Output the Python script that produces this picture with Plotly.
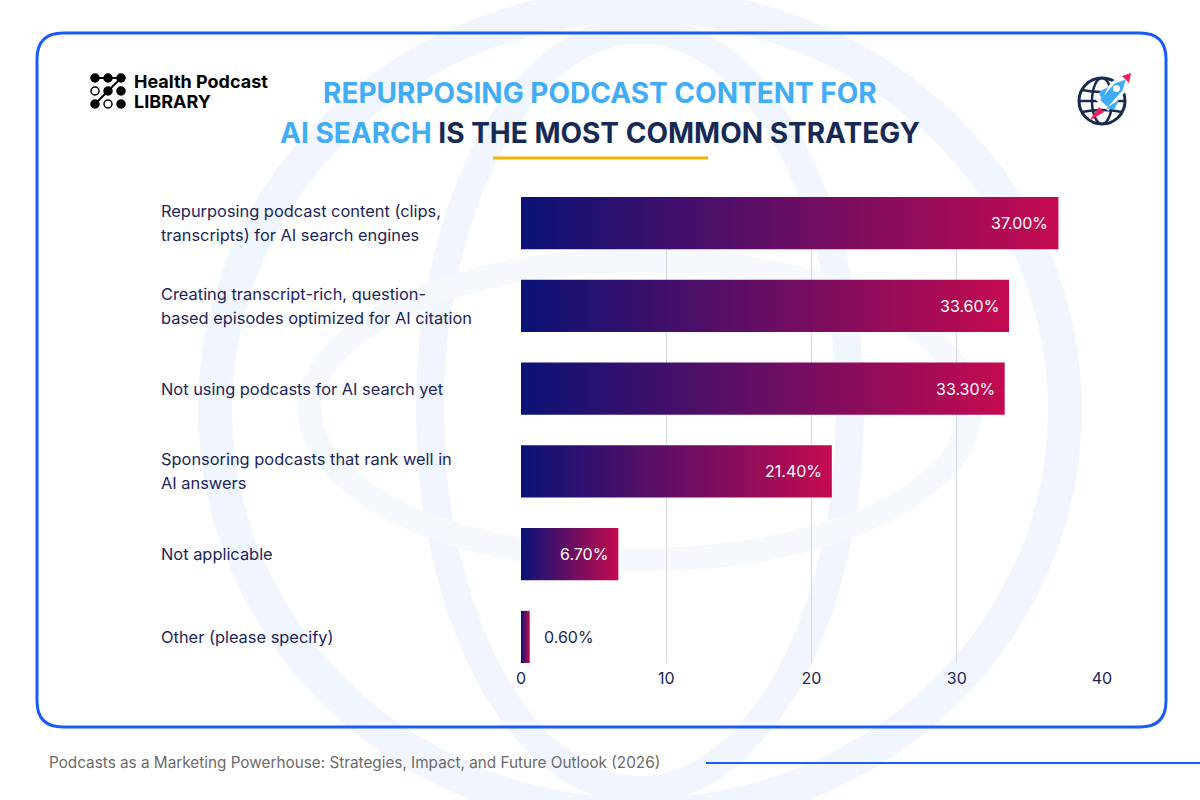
import plotly.graph_objects as go

# survey results, top to bottom
categories = [
    "Repurposing podcast content (clips,<br>transcripts) for AI search engines",
    "Creating transcript-rich, question-<br>based episodes optimized for AI citation",
    "Not using podcasts for AI search yet",
    "Sponsoring podcasts that rank well in<br>AI answers",
    "Not applicable",
    "Other (please specify)",
]
values = [37.0, 33.6, 33.3, 21.4, 6.7, 0.6]
x_ticks = [0, 10, 20, 30, 40]

NAVY = "#1b2559"
DARK = "#172a55"
LIGHT_BLUE = "#42adf5"
BORDER = "#1a5cf5"
PALE = "#f1f6fe"
FONT = "Inter, Open Sans, sans-serif"

# plot area in pixels
W_PX, H_PX = 1200, 800
L, R, T, B = 521, 98, 197, 137
PW = W_PX - L - R
PH = H_PX - T - B


def px(x):
    return (x - L) / PW


def py(y):
    return (H_PX - B - y) / PH


def rounded_rect(x0, y0, x1, y1, r):
    rx, ry = r / PW, r / PH
    a, b, c, d = px(x0), py(y0), px(x1), py(y1)
    return (f"M{a+rx},{b} L{c-rx},{b} Q{c},{b} {c},{b-ry} L{c},{d+ry} Q{c},{d} {c-rx},{d} "
            f"L{a+rx},{d} Q{a},{d} {a},{d+ry} L{a},{b-ry} Q{a},{b} {a+rx},{b} Z")


def poly(points):
    return "M" + " L".join(f"{px(a)},{py(b)}" for a, b in points) + " Z"


fig = go.Figure()

half = 0.315
for i, v in enumerate(values):
    fig.add_trace(go.Scatter(
        x=[0, v, v, 0, 0],
        y=[i - half, i - half, i + half, i + half, i - half],
        mode="lines", fill="toself", line=dict(width=0),
        fillgradient=dict(type="horizontal", colorscale=[[0, "#0a1276"], [1, "#c40a50"]]),
        hoverinfo="skip", showlegend=False,
    ))

shapes = []
# background watermark
shapes.append(dict(type="circle", xref="paper", yref="paper", layer="below",
                   x0=px(215), x1=px(1065), y0=py(5), y1=py(815),
                   line=dict(color=PALE, width=34)))
shapes.append(dict(type="circle", xref="paper", yref="paper", layer="below",
                   x0=px(430), x1=px(850), y0=py(30), y1=py(790),
                   line=dict(color=PALE, width=28)))
shapes.append(dict(type="circle", xref="paper", yref="paper", layer="below",
                   x0=px(310), x1=px(970), y0=py(260), y1=py(560),
                   line=dict(color="#f5f9fe", width=24)))
# card border
shapes.append(dict(type="path", xref="paper", yref="paper", layer="below",
                   path=rounded_rect(37, 33, 1166, 727, 26),
                   line=dict(color=BORDER, width=3)))
# title underline
shapes.append(dict(type="line", xref="paper", yref="paper",
                   x0=px(493), x1=px(708), y0=py(158), y1=py(158),
                   line=dict(color="#f6b10a", width=3)))
# footer rule
shapes.append(dict(type="line", xref="paper", yref="paper",
                   x0=px(706), x1=px(1200), y0=py(763), y1=py(763),
                   line=dict(color=BORDER, width=2)))

# logo dots
dots = [(95, 78, 1), (108, 78, 1), (121, 78, 1),
        (95, 91, 0), (108, 91, 1), (121, 91, 1),
        (95, 104, 1), (108, 104, 0), (121, 104, 1)]
shapes.append(dict(type="line", xref="paper", yref="paper",
                   x0=px(95), x1=px(121), y0=py(78), y1=py(78), line=dict(color="black", width=2)))
shapes.append(dict(type="line", xref="paper", yref="paper",
                   x0=px(121), x1=px(97), y0=py(78), y1=py(102), line=dict(color="black", width=2)))
for dx, dy, filled in dots:
    shapes.append(dict(type="circle", xref="paper", yref="paper",
                       x0=px(dx - 4), x1=px(dx + 4), y0=py(dy - 4), y1=py(dy + 4),
                       fillcolor="black" if filled else "white",
                       line=dict(color="black", width=1.5)))

# globe icon
gx, gy, gr = 1102, 101, 23
GLOBE = "#1b2a4e"
shapes.append(dict(type="circle", xref="paper", yref="paper",
                   x0=px(gx - gr), x1=px(gx + gr), y0=py(gy - gr), y1=py(gy + gr),
                   line=dict(color=GLOBE, width=3)))
shapes.append(dict(type="circle", xref="paper", yref="paper",
                   x0=px(gx - 10), x1=px(gx + 10), y0=py(gy - gr), y1=py(gy + gr),
                   line=dict(color=GLOBE, width=2.5)))
for ly in (gy - 11, gy + 11):
    dxw = (gr ** 2 - (ly - gy) ** 2) ** 0.5
    shapes.append(dict(type="path", xref="paper", yref="paper",
                       path=f"M{px(gx - dxw)},{py(ly)} Q{px(gx)},{py(ly + (4 if ly < gy else -4))} {px(gx + dxw)},{py(ly)}",
                       line=dict(color=GLOBE, width=2.5)))
shapes.append(dict(type="line", xref="paper", yref="paper",
                   x0=px(gx - gr), x1=px(gx + gr), y0=py(gy), y1=py(gy),
                   line=dict(color=GLOBE, width=2.5)))
# rocket: white halo, blue body, red nose and flame
body = [(1098, 100), (1114, 82), (1128, 77), (1124, 91), (1108, 109)]
shapes.append(dict(type="path", xref="paper", yref="paper", path=poly(body),
                   fillcolor="#40acf7", line=dict(color="white", width=3)))
shapes.append(dict(type="path", xref="paper", yref="paper",
                   path=poly([(1099, 92), (1108, 87), (1102, 100)]),
                   fillcolor="#40acf7", line=dict(width=0)))
shapes.append(dict(type="path", xref="paper", yref="paper",
                   path=poly([(1106, 108), (1119, 100), (1114, 110)]),
                   fillcolor="#40acf7", line=dict(width=0)))
shapes.append(dict(type="path", xref="paper", yref="paper",
                   path=poly([(1122, 76), (1131, 73), (1129, 83)]),
                   fillcolor="#ef1d5a", line=dict(width=0)))
shapes.append(dict(type="path", xref="paper", yref="paper",
                   path=poly([(1099, 107), (1104, 112), (1089, 121)]),
                   fillcolor="#ef1d5a", line=dict(width=0)))
shapes.append(dict(type="circle", xref="paper", yref="paper",
                   x0=px(1113), x1=px(1120), y0=py(85), y1=py(92),
                   fillcolor="white", line=dict(width=0)))

annotations = []
# category labels, each line placed separately for wider line spacing
for i, cat in enumerate(categories):
    lines = cat.split("<br>")
    n = len(lines)
    for k, line in enumerate(lines):
        annotations.append(dict(
            xref="paper", yref="y", x=px(159), y=i, xanchor="left", yanchor="middle",
            yshift=(n - 1) * 12 - k * 24, text=line, showarrow=False,
            font=dict(family=FONT, size=16.4, color=NAVY)))
# value labels
for i, v in enumerate(values):
    inside = v > 3
    annotations.append(dict(
        xref="x", yref="y", x=v, y=i, text=f"{v:.2f}%", showarrow=False,
        xanchor="right" if inside else "left", xshift=-8 if inside else 12,
        font=dict(family=FONT, size=16, color="white" if inside else NAVY)))
# title
annotations.append(dict(
    xref="paper", yref="paper", x=px(600), y=py(93), xanchor="center", yanchor="middle",
    text="<b>REPURPOSING PODCAST CONTENT FOR</b>", showarrow=False,
    font=dict(family=FONT, size=28, color=LIGHT_BLUE)))
annotations.append(dict(
    xref="paper", yref="paper", x=px(600), y=py(133), xanchor="center", yanchor="middle",
    text=f"<b><span style='color:{LIGHT_BLUE}'>AI SEARCH</span> IS THE MOST COMMON STRATEGY</b>",
    showarrow=False, font=dict(family=FONT, size=28, color=DARK)))
# logo text
annotations.append(dict(
    xref="paper", yref="paper", x=px(132), y=py(81), xanchor="left", yanchor="middle",
    text="<b>Health Podcast</b>", showarrow=False,
    font=dict(family=FONT, size=18, color="black")))
annotations.append(dict(
    xref="paper", yref="paper", x=px(132), y=py(101), xanchor="left", yanchor="middle",
    text="<b>LIBRARY</b>", showarrow=False,
    font=dict(family=FONT, size=18, color="black")))
# footer
annotations.append(dict(
    xref="paper", yref="paper", x=px(47), y=py(762), xanchor="left", yanchor="middle",
    text="Podcasts as a Marketing Powerhouse: Strategies, Impact, and Future Outlook (2026)",
    showarrow=False, font=dict(family=FONT, size=15.3, color="#6b6b6b")))

fig.update_layout(
    width=W_PX, height=H_PX,
    margin=dict(l=L, r=R, t=T, b=B),
    paper_bgcolor="white", plot_bgcolor="rgba(0,0,0,0)",
    shapes=shapes, annotations=annotations,
    showlegend=False,
    font=dict(family=FONT, color=NAVY),
)
fig.update_xaxes(range=[0, 40], tickvals=x_ticks, showgrid=True, gridcolor="#d3d9e6",
                 gridwidth=1, zeroline=False, showline=False, ticklabelstandoff=4,
                 tickfont=dict(family=FONT, size=16, color=NAVY))
fig.update_yaxes(range=[5 + half, -half], showticklabels=False, showgrid=False,
                 zeroline=False, showline=False)

fig.write_html("out.html", config={"displayModeBar": False},
               post_script="document.body.style.margin='0px';")
